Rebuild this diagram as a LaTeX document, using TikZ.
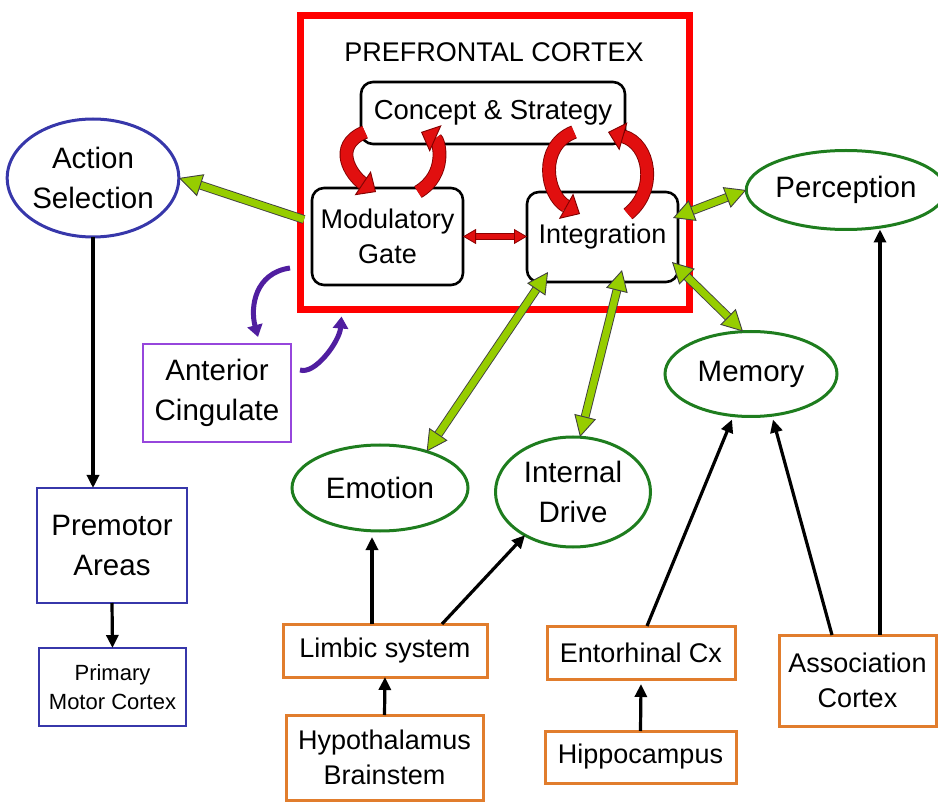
\documentclass[tikz,border=0pt]{standalone}
\usepackage{fontspec}
\setmainfont{Liberation Sans}
\usetikzlibrary{arrows.meta,calc,shapes.geometric}
\definecolor{ygreen}{RGB}{150,205,0}
\definecolor{egreen}{RGB}{30,125,30}
\definecolor{eblue}{RGB}{55,55,170}
\definecolor{orng}{RGB}{225,125,45}
\definecolor{purpbox}{RGB}{150,70,220}
\definecolor{purparr}{RGB}{80,30,160}
\definecolor{pfcred}{RGB}{255,0,0}
\definecolor{redarr}{RGB}{225,15,15}
\tikzset{
  lbl/.style={font=\fontsize{27}{35}\selectfont, align=center, inner sep=0pt, outer sep=0pt},
  big/.style={font=\fontsize{29.5}{40}\selectfont},
  rbox/.style={lbl, draw=black, line width=2.6pt, rounded corners=12pt},
  ell/.style={lbl, big, ellipse, line width=3pt},
  bluebox/.style={lbl, draw=eblue, line width=2.8pt},
  orbox/.style={lbl, draw=orng, line width=3pt},
  purbox/.style={lbl, big, draw=purpbox, line width=2.2pt},
  pfcbox/.style={draw=pfcred, line width=7pt, inner sep=0pt, outer sep=0pt},
  barr/.style={draw=black, line width=3.2pt, -{Triangle[length=13pt,width=12pt]}},
  garr/.style={draw=black!75, line width=0.9pt, double=ygreen, double distance=7pt,
    {Triangle[length=21pt,width=22pt,fill=ygreen]}-{Triangle[length=21pt,width=22pt,fill=ygreen]}},
  garrone/.style={draw=black!75, line width=0.9pt, double=ygreen, double distance=7pt,
    -{Triangle[length=23pt,width=23pt,fill=ygreen]}},
  redtwo/.style={draw=red!55!black, line width=0.8pt, double=redarr, double distance=5pt,
    {Triangle[length=13pt,width=15pt,fill=redarr]}-{Triangle[length=13pt,width=15pt,fill=redarr]}},
  rcurve/.style={draw=red!50!black, line width=0.9pt, double=redarr, double distance=12pt,
    -{Triangle[length=16pt,width=29pt,fill=redarr]}},
  parr/.style={draw=purparr, line width=5pt, -{Triangle[length=12pt,width=15pt]}}
}
\begin{document}
\begin{tikzpicture}[x=1pt,y=-1pt]
\useasboundingbox (0,0) rectangle (938,802);

% prefrontal cortex frame
\node[pfcbox, minimum width=389pt, minimum height=294pt] (pfc) at (495,162.5) {};
\node[lbl] (title) at (494,52) {PREFRONTAL CORTEX};

\node[rbox, minimum width=264pt, minimum height=62pt, font=\fontsize{27.5}{35}\selectfont] (concept) at (493,113) {Concept \& Strategy};
\node[rbox, minimum width=151pt, minimum height=97pt] (mod) at (387.5,236.5) {Modulatory\\Gate};
\node[rbox, minimum width=151pt, minimum height=90pt] (integ) at (602.5,237) {Integration};

% ellipses
\node[ell, draw=eblue, minimum width=162pt, minimum height=118pt] (action) at (93,178) {Action\\Selection};
\node[ell, draw=egreen, minimum width=182pt, minimum height=79pt] (perception) at (846,190) {Perception};
\node[ell, draw=egreen, minimum width=172pt, minimum height=85pt] (memory) at (751,374) {Memory};
\node[ell, draw=egreen, minimum width=176pt, minimum height=86pt] (emotion) at (380,488) {Emotion};
\node[ell, draw=egreen, minimum width=155pt, minimum height=110pt] (drive) at (573,492) {Internal\\Drive};

% boxes
\node[bluebox, big, minimum width=150pt, minimum height=115pt] (premotor) at (112,545.5) {Premotor\\Areas};
\node[bluebox, minimum width=147pt, minimum height=78pt, font=\fontsize{22}{29}\selectfont] (primary) at (112.5,687) {Primary\\Motor Cortex};
\node[purbox, minimum width=148pt, minimum height=98pt] (ant) at (217,393) {Anterior\\Cingulate};
\node[orbox, minimum width=204pt, minimum height=53pt] (limbic) at (385,650.5) {Limbic system};
\node[orbox, minimum width=197pt, minimum height=85pt] (hyp) at (384.5,757.5) {Hypothalamus\\Brainstem};
\node[orbox, minimum width=188pt, minimum height=53pt] (ento) at (641,652.5) {Entorhinal Cx};
\node[orbox, minimum width=191pt, minimum height=52pt] (hippo) at (640.5,757) {Hippocampus};
\node[orbox, minimum width=157pt, minimum height=91pt] (assoc) at (857.5,680.5) {Association\\Cortex};

% red curved arrows
\draw[rcurve] ($(concept.south west)+(4,-12)$) .. controls +(-34,14) and +(-24,-16) .. ($(mod.north west)+(64,4)$);
\draw[rcurve] ($(mod.north west)+(106,4)$) .. controls +(30,-18) and +(18,8) .. ($(concept.south west)+(60,-12)$);
\draw[rcurve] ($(concept.south west)+(213,-12)$) .. controls +(-36,14) and +(-34,-19) .. ($(integ.north west)+(53,22)$);
\draw[rcurve] ($(integ.north west)+(101,22)$) .. controls +(30,-24) and +(42,12) .. ($(concept.south west)+(247,-12)$);

% red double arrow
\draw[redtwo] (mod.east) -- (integ.west |- mod.east);

% green arrows
\draw[garrone] ($(mod.west)+(-8,-17)$) -- (action.east);
\draw[garr] ($(integ.east)+(-5,-19)$) -- (perception.west);
\draw[garr] ($(integ.east)+(-6,25)$) -- ($(memory.north)+(-8,0)$);
\draw[garr] ($(integ.south west)+(21,-10)$) -- (emotion.38);
\draw[garr] ($(integ.south west)+(95,-12)$) -- ($(drive.north)+(7,0)$);

% purple arrows
\draw[parr] ($(mod.south west)+(-22,-17)$) .. controls +(-35,5) and +(-8,-30) .. ($(ant.north)+(41,-7)$);
\draw[parr] ($(ant.north east)+(9,26)$) .. controls +(15,5) and +(-2,25) .. ($(pfc.south west)+(41,7)$);

% black arrows
\draw[barr] (action.south) -- (action.south |- premotor.north);
\draw[barr] (premotor.south) -- (primary.north);
\draw[barr] (hyp.north) -- (limbic.south);
\draw[barr] ($(limbic.north)+(-13,0)$) -- ($(emotion.south)+(-8,6)$);
\draw[barr] ($(limbic.north east)+(-45,0)$) -- (drive.222);
\draw[barr] (hippo.north) -- ($(ento.south)+(0,5)$);
\draw[barr] ($(ento.north)+(6,0)$) -- ($(memory.south)+(-19,3)$);
\draw[barr] ($(assoc.north west)+(53,0)$) -- ($(memory.south)+(22,3)$);
\draw[barr] ($(assoc.north west)+(101,0)$) -- ($(perception.south)+(34,0)$);
\end{tikzpicture}
\end{document}
